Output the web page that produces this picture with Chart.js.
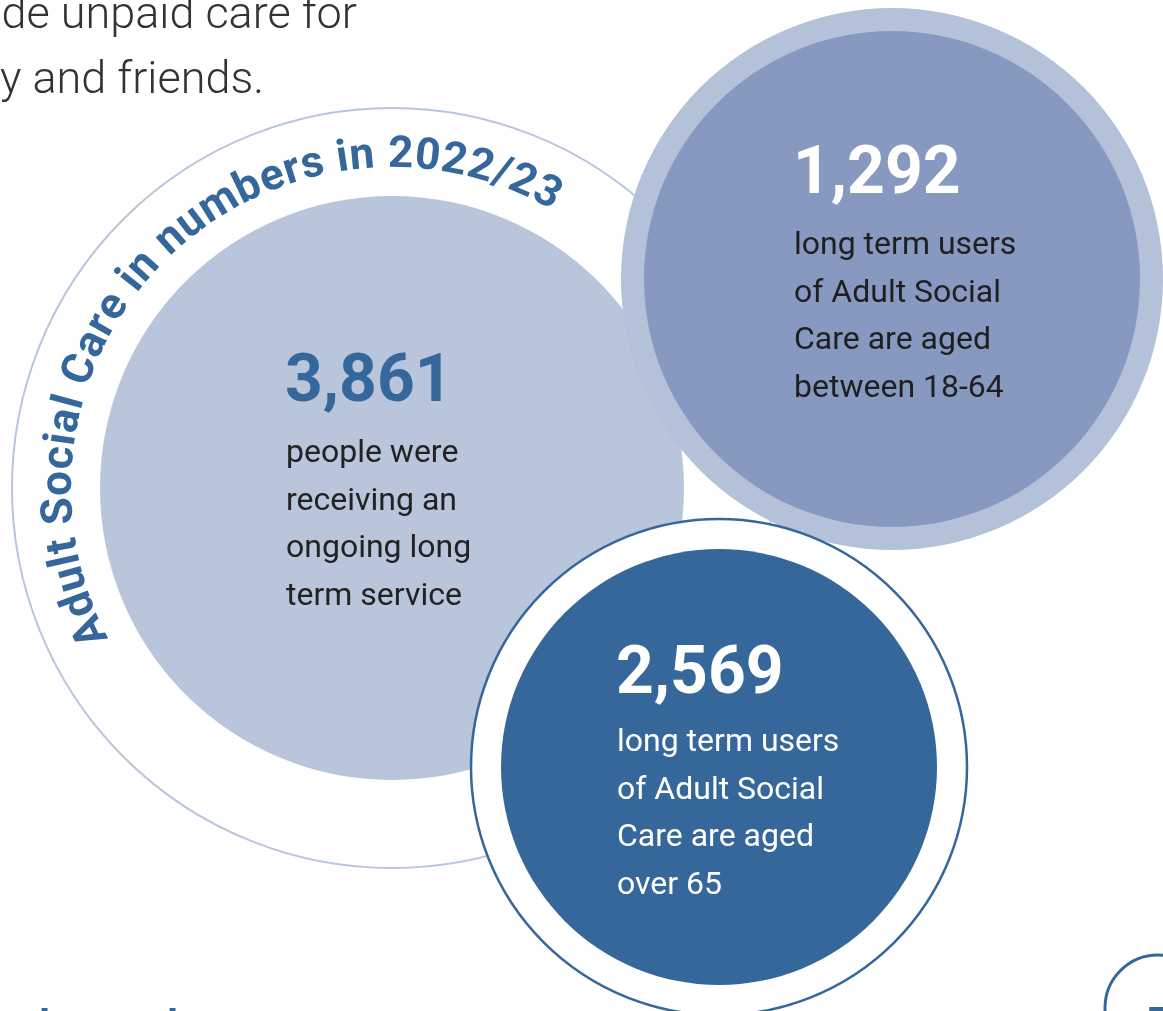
<!DOCTYPE html>
<html lang="en">
<head>
<meta charset="utf-8">
<title>Adult Social Care in numbers in 2022/23</title>
<script src="https://cdn.jsdelivr.net/npm/chart.js"></script>
<style>
  body{margin:0;background:#fff;overflow:hidden}
  #chart{display:block}
</style>
</head>
<body>

<canvas id="chart" width="1163" height="1011"></canvas>

<script>
// figures shown in the three circles
const figures = [3861, 1292, 2569];
const descriptions = [
  ['people were', 'receiving an', 'ongoing long', 'term service'],
  ['long term users', 'of Adult Social', 'Care are aged', 'between 18-64'],
  ['long term users', 'of Adult Social', 'Care are aged', 'over 65']
];
const title = 'Adult Social Care in numbers in 2022/23';
const introLines = ['provide unpaid care for', 'family and friends.'];

// layout in scale units (the page is 1163 x 1011)
const W = 1163, H = 1011;
const rings = [
  // cx, cy, r, fill, stroke, strokeWidth
  { cx:392,  cy:488,  r:380, fill:'rgba(0,0,0,0)', stroke:'#b9c5dc', bw:2 },
  { cx:392,  cy:488,  r:292, fill:'#b8c5db', stroke:null, bw:0 },
  { cx:892,  cy:279,  r:271, fill:'#b3c1d9', stroke:null, bw:0 },
  { cx:892,  cy:279,  r:248, fill:'#8799c0', stroke:null, bw:0 },
  { cx:719,  cy:767,  r:248, fill:'#ffffff', stroke:'#35679a', bw:2.5 },
  { cx:719,  cy:767,  r:218, fill:'#35679a', stroke:null, bw:0 },
  { cx:1158, cy:1008, r:53,  fill:'#ffffff', stroke:'#35679a', bw:3 }
];
const blocks = [
  { x:285, y:401, gap:61, numColor:'#35679a', textColor:'#222222' },
  { x:793, y:193, gap:61, numColor:'#ffffff', textColor:'#1f1f1f' },
  { x:616, y:693, gap:58, numColor:'#ffffff', textColor:'#ffffff' }
];

const datasets = rings.map((c, i) => ({
  data:[{ x:c.cx, y:c.cy, r:c.r }],
  backgroundColor:c.fill,
  borderColor:c.stroke || c.fill,
  borderWidth:c.bw,
  hoverRadius:0,
  order:rings.length - i,
  clip:false
}));

const textPlugin = {
  id:'texts',
  afterDatasetsDraw(chart){
    const ctx = chart.ctx;
    const xs = chart.scales.x, ys = chart.scales.y;
    const px = v => xs.getPixelForValue(v);
    const py = v => ys.getPixelForValue(v);
    ctx.save();

    // intro paragraph, cut off at the left edge
    ctx.font = '300 45px Roboto';
    ctx.fillStyle = '#333333';
    ctx.textAlign = 'right';
    ctx.textBaseline = 'alphabetic';
    ctx.fillText(introLines[0], px(357), py(28));
    ctx.fillText(introLines[1], px(264), py(93));

    // figures and descriptions
    ctx.textAlign = 'left';
    blocks.forEach((b, i) => {
      ctx.font = 'bold 66px Roboto';
      ctx.fillStyle = b.numColor;
      ctx.fillText(figures[i].toLocaleString('en-GB'), px(b.x), py(b.y));
      ctx.font = '32px Roboto';
      ctx.fillStyle = b.textColor;
      descriptions[i].forEach((line, j) => {
        ctx.fillText(line, px(b.x + 1), py(b.y + b.gap + j * 47.6));
      });
    });

    // curved title round the big ring
    const cx = px(392), cy = py(488), rad = 321;
    const a0 = 152 * Math.PI / 180, a1 = 300 * Math.PI / 180;
    ctx.font = 'bold 44px Roboto';
    ctx.fillStyle = '#35679a';
    ctx.textAlign = 'center';
    const chars = [...title];
    const widths = chars.map(ch => ctx.measureText(ch).width);
    const total = widths.reduce((s, w) => s + w, 0);
    const gap = ((a1 - a0) * rad - total) / (chars.length - 1);
    let pos = 0;
    chars.forEach((ch, k) => {
      const a = a0 + (pos + widths[k] / 2) / rad;
      ctx.save();
      ctx.translate(cx + rad * Math.cos(a), cy + rad * Math.sin(a));
      ctx.rotate(a + Math.PI / 2);
      ctx.fillText(ch, 0, 0);
      ctx.restore();
      pos += widths[k] + gap;
    });

    // bits of the next section peeking in at the bottom
    ctx.textAlign = 'left';
    ctx.font = 'bold 42px Roboto';
    ctx.fillText('l', px(39), py(1040));
    ctx.fillText('l', px(167), py(1040));
    ctx.fillText('7', px(1148), py(1037));

    ctx.restore();
  }
};

new Chart(document.getElementById('chart'), {
  type:'bubble',
  data:{ datasets },
  options:{
    responsive:false,
    animation:false,
    events:[],
    layout:{ padding:0, autoPadding:false },
    plugins:{ legend:{ display:false }, tooltip:{ enabled:false } },
    scales:{
      x:{ type:'linear', min:0, max:W, display:false },
      y:{ type:'linear', min:0, max:H, reverse:true, display:false }
    }
  },
  plugins:[textPlugin]
});
</script>

</body>
</html>
